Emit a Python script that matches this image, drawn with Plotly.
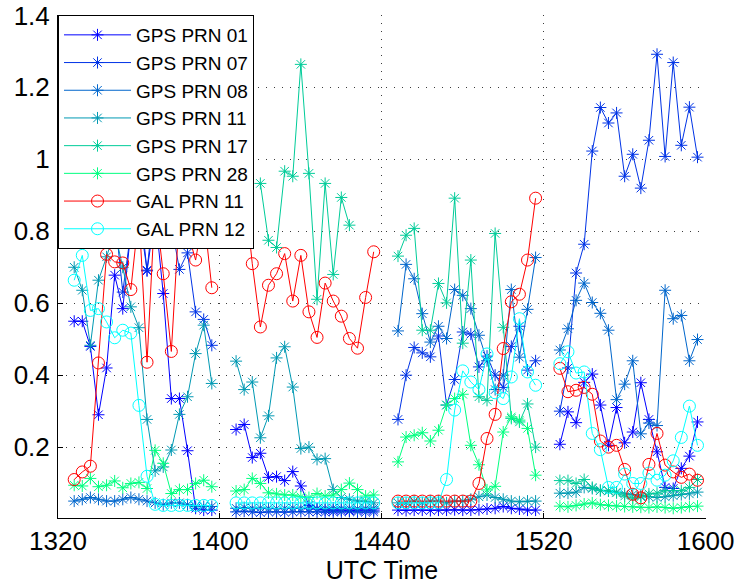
import plotly.graph_objects as go

# segment start labels (UTC) and the sample index inside each 20-sample segment
seg_labels = ["1320", "1400", "1440", "1520", "1600"]
samples = [2, 3, 4, 5, 6, 7, 8, 9, 10, 11, 12, 13, 14, 15, 16, 17, 18, 19]
SEG_LEN = 20

gps01 = [
    [0.55, 0.55, 0.48, 0.29, 0.42, 0.678, 0.585, 0.80, 0.90, 0.69, 0.85, 0.627, 0.335, 0.335, 0.19, 0.03, 0.025, 0.025],
    [0.249, 0.263, 0.171, 0.183, 0.116, 0.118, 0.107, 0.132, 0.092, 0.038, 0.028, 0.025, 0.025, 0.025, 0.024, 0.025, 0.025, 0.025],
    [0.025, 0.024, 0.025, 0.025, 0.024, 0.025, 0.025, 0.026, 0.025, 0.025, 0.026, 0.028, 0.03, 0.035, 0.03, 0.028, 0.025, 0.025],
    [0.208, 0.298, 0.268, 0.38, 0.403, 0.317, 0.205, 0.31, 0.212, 0.242, 0.379, 0.277, 0.187, 0.088, 0.085, 0.141, 0.175, 0.27],
]
gps07 = [
    [0.85, 0.90, 0.95, 0.88, 0.90, 0.85, 0.631, 0.80, 0.85, 0.692, 0.90, 0.78, 0.82, 0.694, 0.74, 0.576, 0.555, 0.483],
    [0.02, 0.022, 0.02, 0.018, 0.02, 0.02, 0.019, 0.02, 0.021, 0.02, 0.02, 0.019, 0.02, 0.02, 0.021, 0.02, 0.019, 0.02],
    [0.277, 0.40, 0.477, 0.462, 0.451, 0.509, 0.317, 0.388, 0.52, 0.514, 0.423, 0.453, 0.40, 0.366, 0.48, 0.536, 0.414, 0.44],
    [0.30, 0.42, 0.684, 0.764, 1.023, 1.144, 1.101, 1.129, 0.953, 1.014, 0.92, 1.053, 1.292, 1.008, 1.269, 1.039, 1.145, 1.006],
]
gps08 = [
    [0.05, 0.055, 0.06, 0.055, 0.05, 0.05, 0.055, 0.06, 0.055, 0.05, 0.045, 0.04, 0.045, 0.045, 0.04, 0.035, 0.035, 0.035],
    [0.03, 0.032, 0.03, 0.031, 0.03, 0.029, 0.03, 0.031, 0.03, 0.03, 0.029, 0.03, 0.031, 0.03, 0.03, 0.029, 0.03, 0.03],
    [0.523, 0.708, 0.668, 0.571, 0.492, 0.536, 0.502, 0.638, 0.622, 0.585, 0.511, 0.44, 0.36, 0.40, 0.638, 0.45, 0.583, 0.727],
    [0.47, 0.529, 0.608, 0.656, 0.602, 0.572, 0.525, 0.332, 0.375, 0.44, 0.237, 0.267, 0.26, 0.636, 0.557, 0.566, 0.44, 0.499],
]
gps11 = [
    [0.70, 0.636, 0.483, 0.664, 0.729, 0.80, 0.70, 0.59, 0.532, 0.277, 0.134, 0.145, 0.192, 0.291, 0.34, 0.46, 0.539, 0.377],
    [0.439, 0.36, 0.381, 0.226, 0.287, 0.448, 0.479, 0.367, 0.196, 0.2, 0.166, 0.168, 0.082, 0.06, 0.055, 0.05, 0.05, 0.045],
    [0.045, 0.045, 0.05, 0.045, 0.05, 0.05, 0.045, 0.05, 0.05, 0.055, 0.062, 0.067, 0.06, 0.055, 0.05, 0.048, 0.05, 0.05],
    [0.072, 0.072, 0.075, 0.088, 0.085, 0.08, 0.078, 0.075, 0.07, 0.068, 0.065, 0.062, 0.06, 0.062, 0.065, 0.068, 0.07, 0.075],
]
gps17 = [
    [None] * 18,
    [None, None, None, 0.933, 0.775, 0.755, 0.967, 0.953, 1.264, 0.961, 0.611, 0.933, 0.68, 0.894, 0.817, None, None, None],
    [0.731, 0.789, 0.808, 0.525, 0.525, 0.655, 0.601, 0.892, 0.489, 0.72, 0.34, 0.33, 0.794, 0.533, 0.28, 0.27, 0.32, 0.2],
    [0.107, 0.107, 0.099, 0.11, 0.088, 0.079, 0.079, 0.073, 0.064, 0.058, 0.062, 0.07, 0.072, 0.079, 0.079, 0.079, 0.088, 0.11],
]
gps28 = [
    [0.094, 0.092, 0.113, 0.09, 0.094, 0.106, 0.087, 0.099, 0.102, 0.085, 0.191, 0.155, 0.071, 0.082, 0.082, 0.099, 0.108, 0.09],
    [0.078, 0.082, 0.113, 0.099, 0.073, 0.07, 0.067, 0.067, 0.062, 0.06, 0.071, 0.064, 0.067, 0.082, 0.1, 0.082, 0.064, 0.067],
    [0.159, 0.228, 0.233, 0.24, 0.217, 0.247, 0.317, 0.335, 0.347, 0.205, 0.151, 0.081, 0.091, 0.242, 0.284, 0.275, 0.252, 0.122],
    [0.036, 0.034, 0.038, 0.042, 0.045, 0.04, 0.038, 0.036, 0.035, 0.034, 0.033, 0.032, 0.034, 0.032, 0.03, 0.032, 0.035, 0.036],
]
gal11 = [
    [0.11, 0.131, 0.147, 0.434, 0.736, 0.715, 0.712, 0.638, 0.85, 0.436, 0.88, 0.682, 0.466, 0.85, 0.80, 0.72, 0.85, 0.643],
    [0.88, 0.92, 0.71, 0.534, 0.65, 0.682, 0.738, 0.606, 0.733, 0.576, 0.505, 0.656, 0.606, 0.564, 0.502, 0.475, 0.616, 0.743],
    [0.05, 0.05, 0.05, 0.05, 0.05, 0.05, 0.05, 0.05, 0.05, 0.05, 0.099, 0.224, 0.291, 0.474, 0.604, 0.625, 0.72, 0.892],
    [0.419, 0.354, 0.358, 0.366, 0.347, 0.217, 0.2, 0.205, 0.138, 0.069, 0.059, 0.152, 0.238, 0.15, 0.131, 0.116, 0.125, 0.108],
]
gal12 = [
    [0.664, 0.733, 0.58, 0.585, 0.548, 0.504, 0.525, 0.517, 0.316, 0.119, 0.041, 0.038, 0.038, 0.038, 0.038, 0.038, 0.038, 0.038],
    [0.045, 0.045, 0.045, 0.045, 0.045, 0.045, 0.045, 0.045, 0.045, 0.045, 0.045, 0.045, 0.045, 0.045, 0.045, 0.045, 0.045, 0.045],
    [0.045, 0.045, 0.045, 0.045, 0.045, 0.045, 0.11, 0.303, 0.412, 0.381, 0.36, 0.459, 0.351, 0.335, 0.395, 0.557, 0.409, 0.372],
    [0.432, 0.465, 0.406, 0.409, 0.238, 0.193, 0.088, 0.088, 0.125, 0.099, 0.099, 0.128, 0.108, 0.122, 0.162, 0.227, 0.314, 0.205],
]

series = [
    ("GPS PRN 01", gps01, "rgb(0,0,255)", "asterisk-open"),
    ("GPS PRN 07", gps07, "rgb(0,51,230)", "asterisk-open"),
    ("GPS PRN 08", gps08, "rgb(0,102,204)", "asterisk-open"),
    ("GPS PRN 11", gps11, "rgb(0,153,179)", "asterisk-open"),
    ("GPS PRN 17", gps17, "rgb(0,204,153)", "asterisk-open"),
    ("GPS PRN 28", gps28, "rgb(0,255,128)", "asterisk-open"),
    ("GAL PRN 11", gal11, "rgb(255,0,0)", "circle-open"),
    ("GAL PRN 12", gal12, "rgb(0,255,255)", "circle-open"),
]


def joinSegments(segs):
    xs = []
    ys = []
    for k, seg in enumerate(segs):
        xs = xs + [k * SEG_LEN + s for s in samples] + [None]
        ys = ys + list(seg) + [None]
    return xs, ys


fig = go.Figure()
for name, segs, color, symbol in series:
    xs, ys = joinSegments(segs)
    fig.add_trace(go.Scatter(
        x=xs,
        y=ys,
        mode="lines+markers",
        name=name,
        connectgaps=False,
        line=dict(color=color, width=1),
        marker=dict(
            symbol=symbol,
            size=10 if symbol == "asterisk-open" else 12,
            color=color,
            line=dict(color=color, width=1),
        ),
    ))

FONT = "Arial, Liberation Sans, sans-serif"
fig.update_layout(
    width=739,
    height=586,
    margin=dict(l=58, r=33, t=15, b=68),
    paper_bgcolor="white",
    plot_bgcolor="white",
    font=dict(family=FONT, size=26, color="black"),
    legend=dict(
        x=0, y=1, xanchor="left", yanchor="top",
        bgcolor="white", bordercolor="black", borderwidth=1,
        font=dict(family=FONT, size=19, color="black"),
        itemwidth=67,
        tracegroupgap=0,
    ),
    showlegend=True,
)
fig.update_xaxes(
    range=[0, 4 * SEG_LEN + 0.05],
    tickvals=[k * SEG_LEN for k in range(5)],
    ticktext=seg_labels,
    showline=True, linecolor="black", linewidth=1,
    ticks="inside", ticklen=5, tickcolor="black",
    showgrid=True, gridcolor="rgb(60,60,60)", griddash="1px,7px", gridwidth=1,
    zeroline=False,
    automargin=False,
    ticklabeloverflow="allow",
    title=dict(text="UTC Time", standoff=0, font=dict(size=25)),
)
fig.update_yaxes(
    range=[0.003, 1.4012],
    tickvals=[0.2, 0.4, 0.6, 0.8, 1.0, 1.2, 1.4],
    ticktext=["0.2", "0.4", "0.6", "0.8", "1", "1.2", "1.4"],
    showline=True, linecolor="black", linewidth=1,
    ticks="inside", ticklen=5, tickcolor="black",
    showgrid=True, gridcolor="rgb(60,60,60)", griddash="1px,7px", gridwidth=1,
    zeroline=False,
    automargin=False,
    ticklabeloverflow="allow",
    ticklabelstandoff=2,
)

# drop the default 8px body margin so the figure fills the window exactly
fig.write_html(
    "out.html",
    config={"displayModeBar": False},
    post_script="document.body.style.margin = '0px';",
)
